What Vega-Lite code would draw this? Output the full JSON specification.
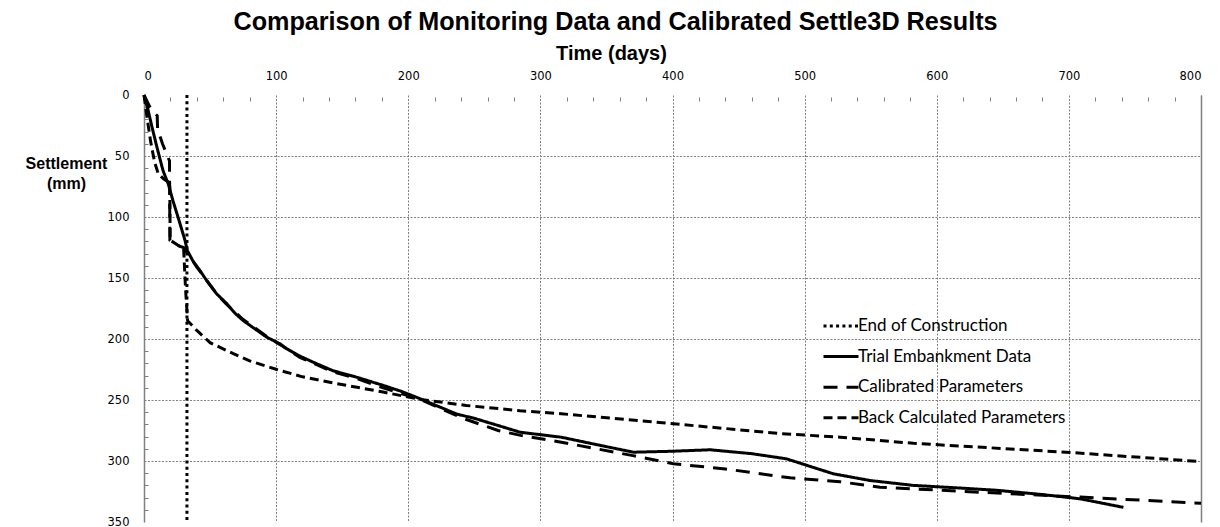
{
  "$schema": "https://vega.github.io/schema/vega-lite/v6.json",
  "width": 1057,
  "height": 427,
  "autosize": {"type": "none"},
  "padding": {"left": 144, "top": 95, "right": 19, "bottom": 5},
  "background": "white",
  "title": {
    "text": "Comparison of Monitoring Data and Calibrated Settle3D Results",
    "font": "Liberation Sans",
    "fontSize": 25.2,
    "fontWeight": "bold",
    "color": "black",
    "anchor": "middle",
    "frame": "group",
    "dx": -57,
    "offset": 8
  },
  "config": {
    "view": {"stroke": null},
    "axis": {"labelFont": "DejaVu Sans", "labelFontSize": 11.5, "labelColor": "black", "titleColor": "black"}
  },
  "data": {
    "values": [
      {"series": "End of Construction", "i": 0, "t": 32.5, "s": 0},
      {"series": "End of Construction", "i": 1, "t": 32.5, "s": 350},

      {"series": "Trial Embankment Data", "i": 0, "t": 0, "s": 0},
      {"series": "Trial Embankment Data", "i": 1, "t": 3, "s": 12},
      {"series": "Trial Embankment Data", "i": 2, "t": 6, "s": 26},
      {"series": "Trial Embankment Data", "i": 3, "t": 9.6, "s": 42},
      {"series": "Trial Embankment Data", "i": 4, "t": 14.4, "s": 62},
      {"series": "Trial Embankment Data", "i": 5, "t": 18.4, "s": 73},
      {"series": "Trial Embankment Data", "i": 6, "t": 22, "s": 87},
      {"series": "Trial Embankment Data", "i": 7, "t": 26, "s": 101},
      {"series": "Trial Embankment Data", "i": 8, "t": 31, "s": 119},
      {"series": "Trial Embankment Data", "i": 9, "t": 32.8, "s": 127.5},
      {"series": "Trial Embankment Data", "i": 10, "t": 37, "s": 136},
      {"series": "Trial Embankment Data", "i": 11, "t": 42.4, "s": 144},
      {"series": "Trial Embankment Data", "i": 12, "t": 48, "s": 153},
      {"series": "Trial Embankment Data", "i": 13, "t": 55, "s": 163},
      {"series": "Trial Embankment Data", "i": 14, "t": 62.6, "s": 171},
      {"series": "Trial Embankment Data", "i": 15, "t": 69, "s": 179},
      {"series": "Trial Embankment Data", "i": 16, "t": 75.2, "s": 185},
      {"series": "Trial Embankment Data", "i": 17, "t": 83, "s": 191},
      {"series": "Trial Embankment Data", "i": 18, "t": 92.9, "s": 198.5},
      {"series": "Trial Embankment Data", "i": 19, "t": 103, "s": 204},
      {"series": "Trial Embankment Data", "i": 20, "t": 108, "s": 208},
      {"series": "Trial Embankment Data", "i": 21, "t": 118, "s": 214},
      {"series": "Trial Embankment Data", "i": 22, "t": 128, "s": 219},
      {"series": "Trial Embankment Data", "i": 23, "t": 143, "s": 226},
      {"series": "Trial Embankment Data", "i": 24, "t": 160, "s": 231},
      {"series": "Trial Embankment Data", "i": 25, "t": 181, "s": 238},
      {"series": "Trial Embankment Data", "i": 26, "t": 195, "s": 243},
      {"series": "Trial Embankment Data", "i": 27, "t": 206, "s": 247.7},
      {"series": "Trial Embankment Data", "i": 28, "t": 220, "s": 254},
      {"series": "Trial Embankment Data", "i": 29, "t": 236.6, "s": 261.5},
      {"series": "Trial Embankment Data", "i": 30, "t": 250, "s": 265},
      {"series": "Trial Embankment Data", "i": 31, "t": 264, "s": 269.6},
      {"series": "Trial Embankment Data", "i": 32, "t": 284.6, "s": 276.4},
      {"series": "Trial Embankment Data", "i": 33, "t": 315.9, "s": 280.5},
      {"series": "Trial Embankment Data", "i": 34, "t": 340, "s": 286},
      {"series": "Trial Embankment Data", "i": 35, "t": 370.4, "s": 292.8},
      {"series": "Trial Embankment Data", "i": 36, "t": 400, "s": 292},
      {"series": "Trial Embankment Data", "i": 37, "t": 428.5, "s": 290.8},
      {"series": "Trial Embankment Data", "i": 38, "t": 460, "s": 294},
      {"series": "Trial Embankment Data", "i": 39, "t": 486.2, "s": 298.2},
      {"series": "Trial Embankment Data", "i": 40, "t": 500, "s": 303},
      {"series": "Trial Embankment Data", "i": 41, "t": 521.8, "s": 310.5},
      {"series": "Trial Embankment Data", "i": 42, "t": 549.6, "s": 316},
      {"series": "Trial Embankment Data", "i": 43, "t": 582.4, "s": 320},
      {"series": "Trial Embankment Data", "i": 44, "t": 615, "s": 322},
      {"series": "Trial Embankment Data", "i": 45, "t": 645.5, "s": 324},
      {"series": "Trial Embankment Data", "i": 46, "t": 680, "s": 327.5},
      {"series": "Trial Embankment Data", "i": 47, "t": 708.6, "s": 331},
      {"series": "Trial Embankment Data", "i": 48, "t": 741.3, "s": 338},

      {"series": "Calibrated Parameters", "i": 0, "t": 0, "s": 0},
      {"series": "Calibrated Parameters", "i": 1, "t": 4, "s": 9},
      {"series": "Calibrated Parameters", "i": 2, "t": 8, "s": 15},
      {"series": "Calibrated Parameters", "i": 3, "t": 10, "s": 17},
      {"series": "Calibrated Parameters", "i": 4, "t": 10.3, "s": 28},
      {"series": "Calibrated Parameters", "i": 5, "t": 14, "s": 40},
      {"series": "Calibrated Parameters", "i": 6, "t": 19.3, "s": 54},
      {"series": "Calibrated Parameters", "i": 7, "t": 19.6, "s": 119},
      {"series": "Calibrated Parameters", "i": 8, "t": 27, "s": 124},
      {"series": "Calibrated Parameters", "i": 9, "t": 30, "s": 125},
      {"series": "Calibrated Parameters", "i": 10, "t": 33, "s": 130},
      {"series": "Calibrated Parameters", "i": 11, "t": 40, "s": 141},
      {"series": "Calibrated Parameters", "i": 12, "t": 55, "s": 163},
      {"series": "Calibrated Parameters", "i": 13, "t": 62, "s": 171},
      {"series": "Calibrated Parameters", "i": 14, "t": 75, "s": 184},
      {"series": "Calibrated Parameters", "i": 15, "t": 93, "s": 198},
      {"series": "Calibrated Parameters", "i": 16, "t": 105, "s": 206},
      {"series": "Calibrated Parameters", "i": 17, "t": 118, "s": 215},
      {"series": "Calibrated Parameters", "i": 18, "t": 143, "s": 227},
      {"series": "Calibrated Parameters", "i": 19, "t": 160, "s": 232},
      {"series": "Calibrated Parameters", "i": 20, "t": 181, "s": 240},
      {"series": "Calibrated Parameters", "i": 21, "t": 210, "s": 250},
      {"series": "Calibrated Parameters", "i": 22, "t": 235, "s": 262},
      {"series": "Calibrated Parameters", "i": 23, "t": 244, "s": 266},
      {"series": "Calibrated Parameters", "i": 24, "t": 268, "s": 275},
      {"series": "Calibrated Parameters", "i": 25, "t": 285, "s": 279},
      {"series": "Calibrated Parameters", "i": 26, "t": 315.9, "s": 284.6},
      {"series": "Calibrated Parameters", "i": 27, "t": 370, "s": 295.6},
      {"series": "Calibrated Parameters", "i": 28, "t": 400.7, "s": 302.3},
      {"series": "Calibrated Parameters", "i": 29, "t": 440, "s": 306.5},
      {"series": "Calibrated Parameters", "i": 30, "t": 489, "s": 313.8},
      {"series": "Calibrated Parameters", "i": 31, "t": 526.9, "s": 317},
      {"series": "Calibrated Parameters", "i": 32, "t": 557, "s": 321.5},
      {"series": "Calibrated Parameters", "i": 33, "t": 633, "s": 325.6},
      {"series": "Calibrated Parameters", "i": 34, "t": 708.6, "s": 329.6},
      {"series": "Calibrated Parameters", "i": 35, "t": 800, "s": 334.6},

      {"series": "Back Calculated Parameters", "i": 0, "t": 0, "s": 0},
      {"series": "Back Calculated Parameters", "i": 1, "t": 2.5, "s": 20},
      {"series": "Back Calculated Parameters", "i": 2, "t": 5, "s": 38},
      {"series": "Back Calculated Parameters", "i": 3, "t": 8, "s": 55},
      {"series": "Back Calculated Parameters", "i": 4, "t": 10.8, "s": 64.6},
      {"series": "Back Calculated Parameters", "i": 5, "t": 15, "s": 69},
      {"series": "Back Calculated Parameters", "i": 6, "t": 19.5, "s": 72},
      {"series": "Back Calculated Parameters", "i": 7, "t": 19.8, "s": 119},
      {"series": "Back Calculated Parameters", "i": 8, "t": 27, "s": 124},
      {"series": "Back Calculated Parameters", "i": 9, "t": 30, "s": 126},
      {"series": "Back Calculated Parameters", "i": 10, "t": 31.5, "s": 160},
      {"series": "Back Calculated Parameters", "i": 11, "t": 33, "s": 185},
      {"series": "Back Calculated Parameters", "i": 12, "t": 40, "s": 193},
      {"series": "Back Calculated Parameters", "i": 13, "t": 50, "s": 203},
      {"series": "Back Calculated Parameters", "i": 14, "t": 67.6, "s": 212},
      {"series": "Back Calculated Parameters", "i": 15, "t": 80, "s": 218},
      {"series": "Back Calculated Parameters", "i": 16, "t": 100.5, "s": 225},
      {"series": "Back Calculated Parameters", "i": 17, "t": 120, "s": 231},
      {"series": "Back Calculated Parameters", "i": 18, "t": 143, "s": 236},
      {"series": "Back Calculated Parameters", "i": 19, "t": 181, "s": 243.5},
      {"series": "Back Calculated Parameters", "i": 20, "t": 209, "s": 249.5},
      {"series": "Back Calculated Parameters", "i": 21, "t": 244, "s": 254.5},
      {"series": "Back Calculated Parameters", "i": 22, "t": 284.6, "s": 258.8},
      {"series": "Back Calculated Parameters", "i": 23, "t": 315.9, "s": 261.3},
      {"series": "Back Calculated Parameters", "i": 24, "t": 400.7, "s": 269.5},
      {"series": "Back Calculated Parameters", "i": 25, "t": 481.5, "s": 277.5},
      {"series": "Back Calculated Parameters", "i": 26, "t": 526.9, "s": 280.5},
      {"series": "Back Calculated Parameters", "i": 27, "t": 582.4, "s": 285.5},
      {"series": "Back Calculated Parameters", "i": 28, "t": 701, "s": 293},
      {"series": "Back Calculated Parameters", "i": 29, "t": 800, "s": 300.5}
    ]
  },
  "resolve": {"axis": {"x": "independent", "y": "independent"}},
  "layer": [
    {
      "mark": {"type": "point", "opacity": 0},
      "encoding": {
        "x": {"field": "t", "type": "quantitative", "scale": {"domain": [0, 800], "nice": false, "zero": false},
              "axis": {"orient": "top", "offset": -6, "values": [20,40,60,80,120,140,160,180,220,240,260,280,320,340,360,380,420,440,460,480,520,540,560,580,620,640,660,680,720,740,760,780],
                       "labels": false, "domain": false, "grid": false, "ticks": true, "tickSize": 4, "tickColor": "#808080", "title": null}},
        "y": {"field": "s", "type": "quantitative", "scale": {"domain": [0, 350], "reverse": true, "nice": false, "zero": false},
              "axis": {"orient": "left", "offset": -4, "values": [10,20,30,40,60,70,80,90,110,120,130,140,160,170,180,190,210,220,230,240,260,270,280,290,310,320,330,340],
                       "labels": false, "domain": false, "grid": false, "ticks": true, "tickSize": 4, "tickColor": "#808080", "title": null}}
      }
    },
    {
      "mark": {"type": "point", "opacity": 0},
      "encoding": {
        "x": {"field": "t", "type": "quantitative", "axis": null},
        "y": {"field": "s", "type": "quantitative",
              "axis": {"orient": "right", "values": [], "labels": false, "ticks": false, "grid": false, "domain": true, "domainColor": "#808080", "domainWidth": 1.5, "title": null}}
      }
    },
    {
      "mark": {"type": "point", "opacity": 0},
      "encoding": {
        "x": {"field": "t", "type": "quantitative", "axis": null},
        "y": {"field": "s", "type": "quantitative",
              "axis": {"orient": "left", "values": [50,100,150,200,250,300], "labels": false, "ticks": false, "domain": false,
                       "grid": true, "gridColor": "#808080", "gridDash": [2, 1.5], "gridWidth": 1, "title": null}}
      }
    },
    {
      "mark": {"type": "line", "strokeWidth": 3, "color": "black"},
      "encoding": {
        "x": {"field": "t", "type": "quantitative",
              "axis": {"orient": "top", "values": [0,100,200,300,400,500,600,700,800], "format": "d", "domain": false, "ticks": false,
                       "labelPadding": 14, "grid": true, "gridColor": "#808080", "gridDash": [2, 1.5], "gridWidth": 1,
                       "title": "Time (days)", "titleFont": "Liberation Sans", "titleFontSize": 20, "titleFontWeight": "bold",
                       "titleX": 467, "titleY": -42, "titleAlign": "center", "titleBaseline": "middle"}},
        "y": {"field": "s", "type": "quantitative",
              "axis": {"orient": "left", "values": [0,50,100,150,200,250,300,350], "format": "d", "domain": true, "domainColor": "#808080", "domainWidth": 1.5,
                       "ticks": false, "labelPadding": 15, "grid": false,
                       "title": ["Settlement", "(mm)"], "titleFont": "Liberation Sans", "titleFontSize": 16, "titleFontWeight": "bold",
                       "titleAngle": 0, "titleX": -78, "titleY": 68, "titleAlign": "center", "titleBaseline": "middle", "titleLineHeight": 20}},
        "order": {"field": "i", "type": "quantitative"},
        "detail": {"field": "series"},
        "strokeDash": {"field": "series", "type": "nominal",
          "scale": {"domain": ["End of Construction", "Trial Embankment Data", "Calibrated Parameters", "Back Calculated Parameters"],
                    "range": [[3, 3.3], [1, 0], [14, 9], [9, 5]]},
          "legend": {"title": null, "orient": "none", "legendX": 678, "legendY": 212, "symbolType": "stroke", "symbolSize": 1225,
                     "symbolStrokeWidth": 3, "symbolStrokeColor": "black", "labelFont": "Lato", "labelFontSize": 17, "labelColor": "black",
                     "labelLimit": 0, "labelOffset": -2, "rowPadding": 3.6, "padding": 0}}
      }
    }
  ]
}
